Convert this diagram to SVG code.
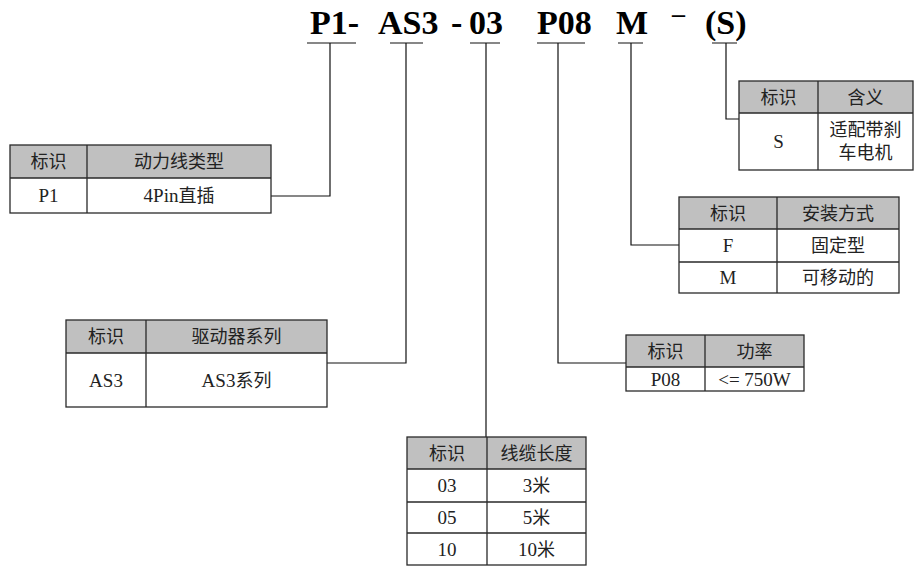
<svg xmlns="http://www.w3.org/2000/svg" width="915" height="567" viewBox="0 0 915 567">
  <style>
    .title { font-family: "Liberation Serif", "Times New Roman", serif; font-weight: bold; font-size: 34px; fill: #000; }
    .cell { font-family: "Liberation Serif", "Noto Sans CJK SC", serif; font-size: 18px; fill: #222; text-anchor: middle; }
    .lat { font-size: 19px; }
    .hdr { fill: #c0c0c0; }
    .box { fill: none; stroke: #2a2a2a; stroke-width: 1.3; }
    .grid { stroke: #2a2a2a; stroke-width: 1.3; }
    .wire { fill: none; stroke: #111; stroke-width: 1.2; }
  </style>
  <rect width="915" height="567" fill="#fff"/>

  <!-- model code -->
  <g id="code">
    <text class="title" x="310" y="34">P1-</text>
    <text class="title" x="378" y="34">AS3</text>
    <text class="title" x="451" y="34">-</text>
    <text class="title" x="469" y="34">03</text>
    <text class="title" x="537" y="34">P08</text>
    <text class="title" x="616" y="34">M</text>
    <text class="title" x="672" y="22" style="font-size:26px">–</text>
    <text class="title" x="705" y="34">(S)</text>
  </g>

  <!-- connectors: underline + stem + elbow to each table -->
  <g id="connectors">
    <path class="wire" d="M307 43H356M330 43V196H271"/>
    <path class="wire" d="M390 43H423M406 43V363H327"/>
    <path class="wire" d="M470 43H500M486 43V437"/>
    <path class="wire" d="M537 43H585M558 43V363H626"/>
    <path class="wire" d="M618 43H643M631 43V245H679"/>
    <path class="wire" d="M712 43H737M726 43V119H739" stroke="#555"/>
  </g>

  <!-- power cable type -->
  <g id="table-p1">
    <rect class="hdr" x="10" y="145" width="261" height="33"/>
    <rect class="box" x="10" y="145" width="261" height="68"/>
    <path class="grid" d="M10 178H271M87 145V213"/>
    <text class="cell" x="48.5" y="168">标识</text>
    <text class="cell" x="179" y="168">动力线类型</text>
    <text class="cell lat" x="48.5" y="202">P1</text>
    <text class="cell" x="179" y="202"><tspan class="lat">4Pin</tspan>直插</text>
  </g>

  <!-- drive series -->
  <g id="table-as3">
    <rect class="hdr" x="66" y="320" width="261" height="33"/>
    <rect class="box" x="66" y="320" width="261" height="87"/>
    <path class="grid" d="M66 353H327M146 320V407"/>
    <text class="cell" x="106" y="343">标识</text>
    <text class="cell" x="236.5" y="343">驱动器系列</text>
    <text class="cell lat" x="106" y="386.5">AS3</text>
    <text class="cell" x="236.5" y="386.5"><tspan class="lat">AS3</tspan>系列</text>
  </g>

  <!-- cable length -->
  <g id="table-03">
    <rect class="hdr" x="407" y="437" width="179" height="32"/>
    <rect class="box" x="407" y="437" width="179" height="128"/>
    <path class="grid" d="M407 469H586M407 502H586M407 533H586M487 437V565"/>
    <text class="cell" x="447" y="459.5">标识</text>
    <text class="cell" x="536.5" y="459.5">线缆长度</text>
    <text class="cell lat" x="447" y="492">03</text>
    <text class="cell" x="536.5" y="492"><tspan class="lat">3</tspan>米</text>
    <text class="cell lat" x="447" y="524">05</text>
    <text class="cell" x="536.5" y="524"><tspan class="lat">5</tspan>米</text>
    <text class="cell lat" x="447" y="555.5">10</text>
    <text class="cell" x="536.5" y="555.5"><tspan class="lat">10</tspan>米</text>
  </g>

  <!-- power rating -->
  <g id="table-p08">
    <rect class="hdr" x="626" y="335" width="178" height="32"/>
    <rect class="box" x="626" y="335" width="178" height="56"/>
    <path class="grid" d="M626 367H804M705 335V391"/>
    <text class="cell" x="665.5" y="357.5">标识</text>
    <text class="cell" x="754.5" y="357.5">功率</text>
    <text class="cell lat" x="665.5" y="385.5">P08</text>
    <text class="cell lat" x="754.5" y="385.5">&lt;= 750W</text>
  </g>

  <!-- mounting type -->
  <g id="table-m">
    <rect class="hdr" x="679" y="197" width="220" height="32"/>
    <rect class="box" x="679" y="197" width="220" height="96"/>
    <path class="grid" d="M679 229H899M679 262H899M777 197V293"/>
    <text class="cell" x="728" y="219.5">标识</text>
    <text class="cell" x="838" y="219.5">安装方式</text>
    <text class="cell lat" x="728" y="252">F</text>
    <text class="cell" x="838" y="252">固定型</text>
    <text class="cell lat" x="728" y="284">M</text>
    <text class="cell" x="838" y="284">可移动的</text>
  </g>

  <!-- brake option -->
  <g id="table-s">
    <rect class="hdr" x="739" y="81" width="174" height="32"/>
    <rect class="box" x="739" y="81" width="174" height="89"/>
    <path class="grid" d="M739 113H913M818 81V170"/>
    <text class="cell" x="778.5" y="103.5">标识</text>
    <text class="cell" x="865.5" y="103.5">含义</text>
    <text class="cell lat" x="778.5" y="148">S</text>
    <text class="cell" x="865.5" y="136">适配带刹</text>
    <text class="cell" x="865.5" y="159">车电机</text>
  </g>
</svg>
